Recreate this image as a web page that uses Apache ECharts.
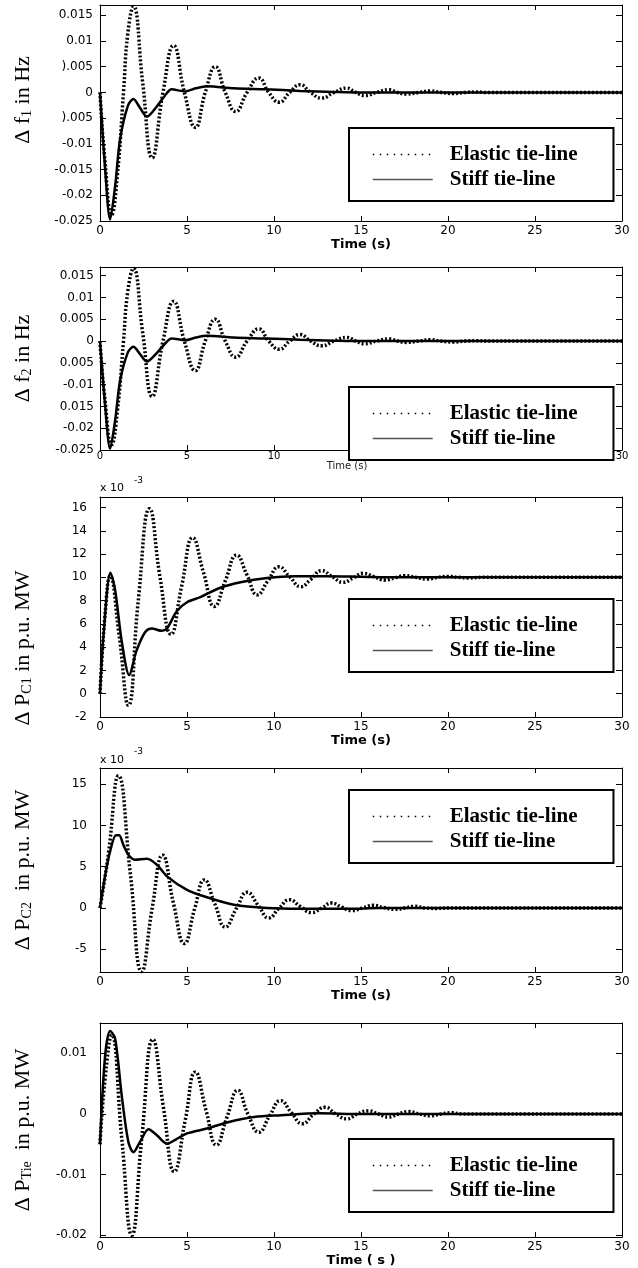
<!DOCTYPE html>
<html>
<head>
<meta charset="utf-8">
<script src="https://cdn.jsdelivr.net/npm/echarts@6/dist/echarts.min.js"></script>
<style>
  html, body { margin: 0; padding: 0; background: #fff; }
  #chart { width: 638px; height: 1268px; }
</style>
</head>
<body>
<div id="chart"></div>
<script>
// ---- data (time in s) ----
const timeTicks = [0, 5, 10, 15, 20, 25, 30];

// frequency deviation, area 1 (Hz)
const f1Elastic = [[0,0],[0.25,-0.012],[0.67,-0.0238],[1.0,-0.016],[1.35,0],[1.6,0.0115],[1.92,0.0167],[2.45,0.002],[3.0,-0.0127],[3.62,0],[4.23,0.0091],[4.85,0],[5.48,-0.0068],[6.05,0],[6.63,0.005],[7.2,0],[7.8,-0.0037],[8.45,0],[9.13,0.0028],[9.7,0],[10.3,-0.0019],[10.9,0],[11.5,0.0015],[12.1,0],[12.74,-0.0011],[13.45,0],[14.18,0.00084],[14.7,0],[15.2,-0.0006],[15.9,0],[16.6,0.0005],[17.1,0],[17.6,-0.0003],[18.3,0],[19.0,0.0003],[19.6,0],[20.3,-0.0002],[21,0],[21.6,0.0001],[22.2,0],[30,0]];
const f1Stiff = [[0,0],[0.3,-0.015],[0.58,-0.0247],[0.87,-0.0182],[1.15,-0.0092],[1.6,-0.0026],[1.92,-0.0013],[2.3,-0.003],[2.69,-0.0047],[3.27,-0.0027],[3.85,-0.0001],[4.1,0.0006],[4.9,0.0002],[5.5,0.0008],[6.15,0.0012],[7.7,0.0008],[9.5,0.0006],[11.5,0.0003],[13.5,0.0001],[15,0],[30,0]];
// area 2 response is drawn the same as area 1 in the figure
const f2Elastic = f1Elastic.map(p => p.slice());
const f2Stiff = f1Stiff.map(p => p.slice());

// governor outputs (x 10^-3 p.u. MW)
const pc1Elastic = [[0,0],[0.3,7],[0.58,10.1],[1.1,5],[1.63,-1.0],[2.2,8],[2.85,15.9],[3.45,10],[4.08,5.1],[4.7,9.3],[5.33,13.4],[5.95,10.4],[6.58,7.5],[7.2,9.7],[7.85,11.9],[8.45,10.2],[9.04,8.5],[9.65,9.7],[10.29,10.9],[10.9,10.05],[11.54,9.2],[12.1,9.8],[12.74,10.57],[13.35,10.05],[13.97,9.57],[14.55,9.95],[15.13,10.34],[15.75,10.05],[16.38,9.77],[16.95,9.95],[17.5,10.14],[18.15,10],[18.8,9.86],[19.4,10],[20,10.08],[20.6,10],[21.2,9.95],[22,10],[30,10]];
const pc1Stiff = [[0,0],[0.2,5],[0.6,10.4],[0.87,8.9],[1.25,4.5],[1.68,1.6],[2.1,3.7],[2.6,5.3],[2.98,5.6],[3.56,5.4],[3.85,5.6],[4.42,7.1],[5.0,7.86],[5.77,8.3],[6.92,9.1],[8.08,9.57],[9.6,9.94],[11.15,10.1],[13,10.1],[15,10.05],[17,10],[30,10]];
const pc2Elastic = [[0,0],[0.48,6.5],[1.06,16.0],[1.75,4],[2.4,-7.7],[3.0,0],[3.6,6.4],[4.23,0.5],[4.85,-4.3],[5.45,0],[6.0,3.4],[6.6,0.5],[7.2,-2.3],[7.85,0],[8.46,1.9],[9.1,0.3],[9.7,-1.2],[10.3,0],[10.9,1.0],[11.5,0.2],[12.15,-0.55],[12.75,0],[13.3,0.6],[13.9,0.1],[14.47,-0.32],[15.1,0],[15.7,0.32],[16.3,0.05],[16.95,-0.16],[17.5,0],[18.1,0.2],[18.7,0],[19.35,-0.05],[20,0],[30,0]];
const pc2Stiff = [[0,0],[0.3,4],[0.58,6.85],[0.92,8.8],[1.1,8.8],[1.35,7.6],[1.63,6.45],[2.0,5.85],[2.7,5.97],[3.27,5.24],[3.85,3.83],[5.0,2.2],[6.15,1.3],[7.7,0.4],[9.6,0],[11.5,-0.1],[14.4,-0.1],[16,0],[30,0]];

// tie-line power (p.u. MW)
const tieElastic = [[0,-0.005],[0.3,0.006],[0.67,0.013],[1.25,-0.004],[1.83,-0.02],[2.4,-0.004],[3.04,0.0123],[3.65,0.001],[4.27,-0.0095],[4.9,-0.001],[5.48,0.0069],[6.1,0.0005],[6.69,-0.0051],[7.3,-0.0005],[7.92,0.0039],[8.5,0],[9.13,-0.003],[9.75,-0.0003],[10.38,0.0022],[11.0,0.0002],[11.63,-0.0016],[12.3,0],[12.93,0.0011],[13.55,0],[14.18,-0.0008],[14.8,0],[15.42,0.0005],[16.0,0],[16.57,-0.0005],[17.15,0],[17.72,0.0004],[18.35,0],[18.97,-0.0003],[19.6,0],[20.2,0.0002],[20.8,0],[30,0]];
const tieStiff = [[0,-0.0049],[0.29,0.0095],[0.58,0.0137],[0.87,0.0124],[1.25,0.003],[1.63,-0.0046],[1.92,-0.0063],[2.3,-0.0046],[2.79,-0.0025],[3.27,-0.0035],[3.85,-0.0049],[4.42,-0.0041],[5.0,-0.0032],[6.15,-0.0024],[7.3,-0.0014],[8.85,-0.0005],[10.4,-0.0002],[12.6,0.0001],[15,0],[30,0]];

// y tick values and the tick texts as printed
const fTicks = [-0.025, -0.02, -0.015, -0.01, -0.005, 0, 0.005, 0.01, 0.015];
const f1TickLabels = ['-0.025', '-0.02', '-0.015', '-0.01', ').005', '0', ').005', '0.01', '0.015'];
const f2TickLabels = ['-0.025', '-0.02', '0.015', '-0.01', '0.005', '0', '0.005', '0.01', '0.015'];
const pc1Ticks = [-2, 0, 2, 4, 6, 8, 10, 12, 14, 16];
const pc1TickLabels = ['-2', '0', '2', '4', '6', '8', '10', '12', '14', '16'];
const pc2Ticks = [-5, 0, 5, 10, 15];
const pc2TickLabels = ['-5', '0', '5', '10', '15'];
const tieTicks = [-0.02, -0.01, 0, 0.01];
const tieTickLabels = ['-0.02', '-0.01', '0', '0.01'];

const seriesNames = ['Elastic tie-line', 'Stiff tie-line'];

// ---- layout of the five stacked plots ----
const panels = [
  { top: 5, height: 216, yMin: -0.025, yMax: 0.017, ticks: fTicks, labels: f1TickLabels, labelMargin: 7,
    yName: '{t|Δ f}{s|1}{t| in Hz}', namePad: [0, 0, 0, 26], elastic: f1Elastic, stiff: f1Stiff,
    xName: 'Time (s)', xBold: true, legendTop: 128 },
  { top: 267, height: 183, yMin: -0.025, yMax: 0.017, ticks: fTicks, labels: f2TickLabels, labelMargin: 6,
    yName: '{t|Δ f}{s|2}{t| in Hz}', namePad: [0, 0, 0, 0], elastic: f2Elastic, stiff: f2Stiff,
    xName: 'Time (s)', xBold: false, legendTop: 387 },
  { top: 497, height: 220, yMin: -2, yMax: 16.9, ticks: pc1Ticks, labels: pc1TickLabels, labelMargin: 13,
    yName: '{t|Δ P}{s|C1}{t| in p.u. MW}', namePad: [0, 82, 0, 0], elastic: pc1Elastic, stiff: pc1Stiff,
    xName: 'Time (s)', xBold: true, legendTop: 599 },
  { top: 768, height: 204, yMin: -7.75, yMax: 16.95, ticks: pc2Ticks, labels: pc2TickLabels, labelMargin: 13,
    yName: '{t|Δ P}{s|C2}{t|  in p.u. MW}', namePad: [0, 0, 0, 0], elastic: pc2Elastic, stiff: pc2Stiff,
    xName: 'Time (s)', xBold: true, legendTop: 790 },
  { top: 1023, height: 217, yMin: -0.0203, yMax: 0.015, ticks: tieTicks, labels: tieTickLabels, labelMargin: 13,
    yName: '{t|Δ P}{s|Tie}{t|  in p.u. MW}', namePad: [0, 0, 0, 0], elastic: tieElastic, stiff: tieStiff,
    xName: 'Time ( s )', xBold: true, legendTop: 1139 }
];

const chart = echarts.init(document.getElementById('chart'));

const grid = [], xAxis = [], yAxis = [], series = [], legend = [];
const axisLine = { show: true, onZero: false, lineStyle: { color: '#000', width: 1 } };

panels.forEach((p, i) => {
  grid.push({ left: 100, right: 16, top: p.top, height: p.height, show: false });

  xAxis.push({
    gridIndex: i, type: 'value', position: 'bottom', min: 0, max: 30, interval: 5,
    axisLine: axisLine, splitLine: { show: false },
    axisTick: { inside: true, length: 5, lineStyle: { color: '#000' } },
    axisLabel: { margin: p.xBold ? 4 : 1, color: '#000', fontFamily: 'DejaVu Sans', fontSize: p.xBold ? 12 : 10,
      formatter: v => (timeTicks.indexOf(v) >= 0 ? String(v) : '') },
    name: p.xName, nameLocation: 'middle', nameGap: p.xBold ? 15 : 11,
    nameTextStyle: p.xBold
      ? { fontFamily: 'DejaVu Sans', fontWeight: 'bold', fontSize: 13, color: '#000' }
      : { fontFamily: 'DejaVu Sans', fontSize: 10, color: '#222', padding: [0, 28, 0, 0] }
  });
  xAxis.push({
    gridIndex: i, type: 'value', position: 'top', min: 0, max: 30, interval: 5,
    axisLine: axisLine, splitLine: { show: false },
    axisTick: { inside: true, length: 5, lineStyle: { color: '#000' } },
    axisLabel: { show: false }
  });

  const fmt = v => {
    const k = p.ticks.findIndex(t => Math.abs(t - v) < 1e-9);
    return k >= 0 ? p.labels[k] : '';
  };
  yAxis.push({
    gridIndex: i, type: 'value', position: 'left', min: p.yMin, max: p.yMax,
    axisLine: axisLine, splitLine: { show: false },
    axisTick: { inside: true, length: 6, customValues: p.ticks, lineStyle: { color: '#000' } },
    axisLabel: { customValues: p.ticks, margin: p.labelMargin, color: '#000',
      fontFamily: 'DejaVu Sans', fontSize: 12, formatter: fmt },
    name: p.yName, nameLocation: 'middle', nameRotate: 90, nameGap: 66,
    nameTextStyle: {
      padding: p.namePad,
      rich: {
        t: { fontFamily: 'Liberation Serif', fontSize: 22, color: '#000' },
        s: { fontFamily: 'Liberation Serif', fontSize: 14, color: '#000', verticalAlign: 'bottom' }
      }
    }
  });
  yAxis.push({
    gridIndex: i, type: 'value', position: 'right', min: p.yMin, max: p.yMax,
    axisLine: axisLine, splitLine: { show: false },
    axisTick: { inside: true, length: 6, customValues: p.ticks, lineStyle: { color: '#000' } },
    axisLabel: { show: false }
  });

  series.push({
    name: seriesNames[0], type: 'line', xAxisIndex: 2 * i, yAxisIndex: 2 * i,
    data: p.elastic, symbol: 'none', smooth: 0.5, z: 2,
    lineStyle: { color: '#000', width: 3.5, type: [2, 2] }
  });
  series.push({
    name: seriesNames[1], type: 'line', xAxisIndex: 2 * i, yAxisIndex: 2 * i,
    data: p.stiff, symbol: 'none', smooth: 0.3, z: 3,
    lineStyle: { color: '#000', width: 2.5 }
  });

  legend.push({
    left: 349, top: p.legendTop, orient: 'vertical', itemGap: 0,
    itemWidth: 60, itemHeight: 14, padding: [14, 36, 9, 23],
    backgroundColor: '#fff', borderColor: '#000', borderWidth: 2, borderRadius: 0,
    selectedMode: false, z: 10,
    itemStyle: { color: 'rgba(0,0,0,0)', borderWidth: 0 },
    data: [
      { name: seriesNames[0], lineStyle: { color: '#000', width: 1.5, type: [1.5, 5.5] } },
      { name: seriesNames[1], lineStyle: { color: '#555', width: 1.3, type: 'solid' } }
    ],
    textStyle: { fontFamily: 'Liberation Serif', fontWeight: 'bold', fontSize: 21, color: '#000',
      lineHeight: 25, padding: [0, 0, 0, 12] }
  });
});

// "x 10^-3" multipliers above the two governor plots
const expFont = '11px DejaVu Sans';
const graphic = [
  { type: 'text', x: 100, y: 488, style: { text: 'x 10', font: expFont, fill: '#000', verticalAlign: 'middle' } },
  { type: 'text', x: 134, y: 481, style: { text: '-3', font: '9px DejaVu Sans', fill: '#000', verticalAlign: 'middle' } },
  { type: 'text', x: 100, y: 760, style: { text: 'x 10', font: expFont, fill: '#000', verticalAlign: 'middle' } },
  { type: 'text', x: 134, y: 752, style: { text: '-3', font: '9px DejaVu Sans', fill: '#000', verticalAlign: 'middle' } }
];

chart.setOption({
  animation: false,
  backgroundColor: '#fff',
  grid: grid,
  xAxis: xAxis,
  yAxis: yAxis,
  legend: legend,
  graphic: graphic,
  series: series
});
</script>
</body>
</html>
